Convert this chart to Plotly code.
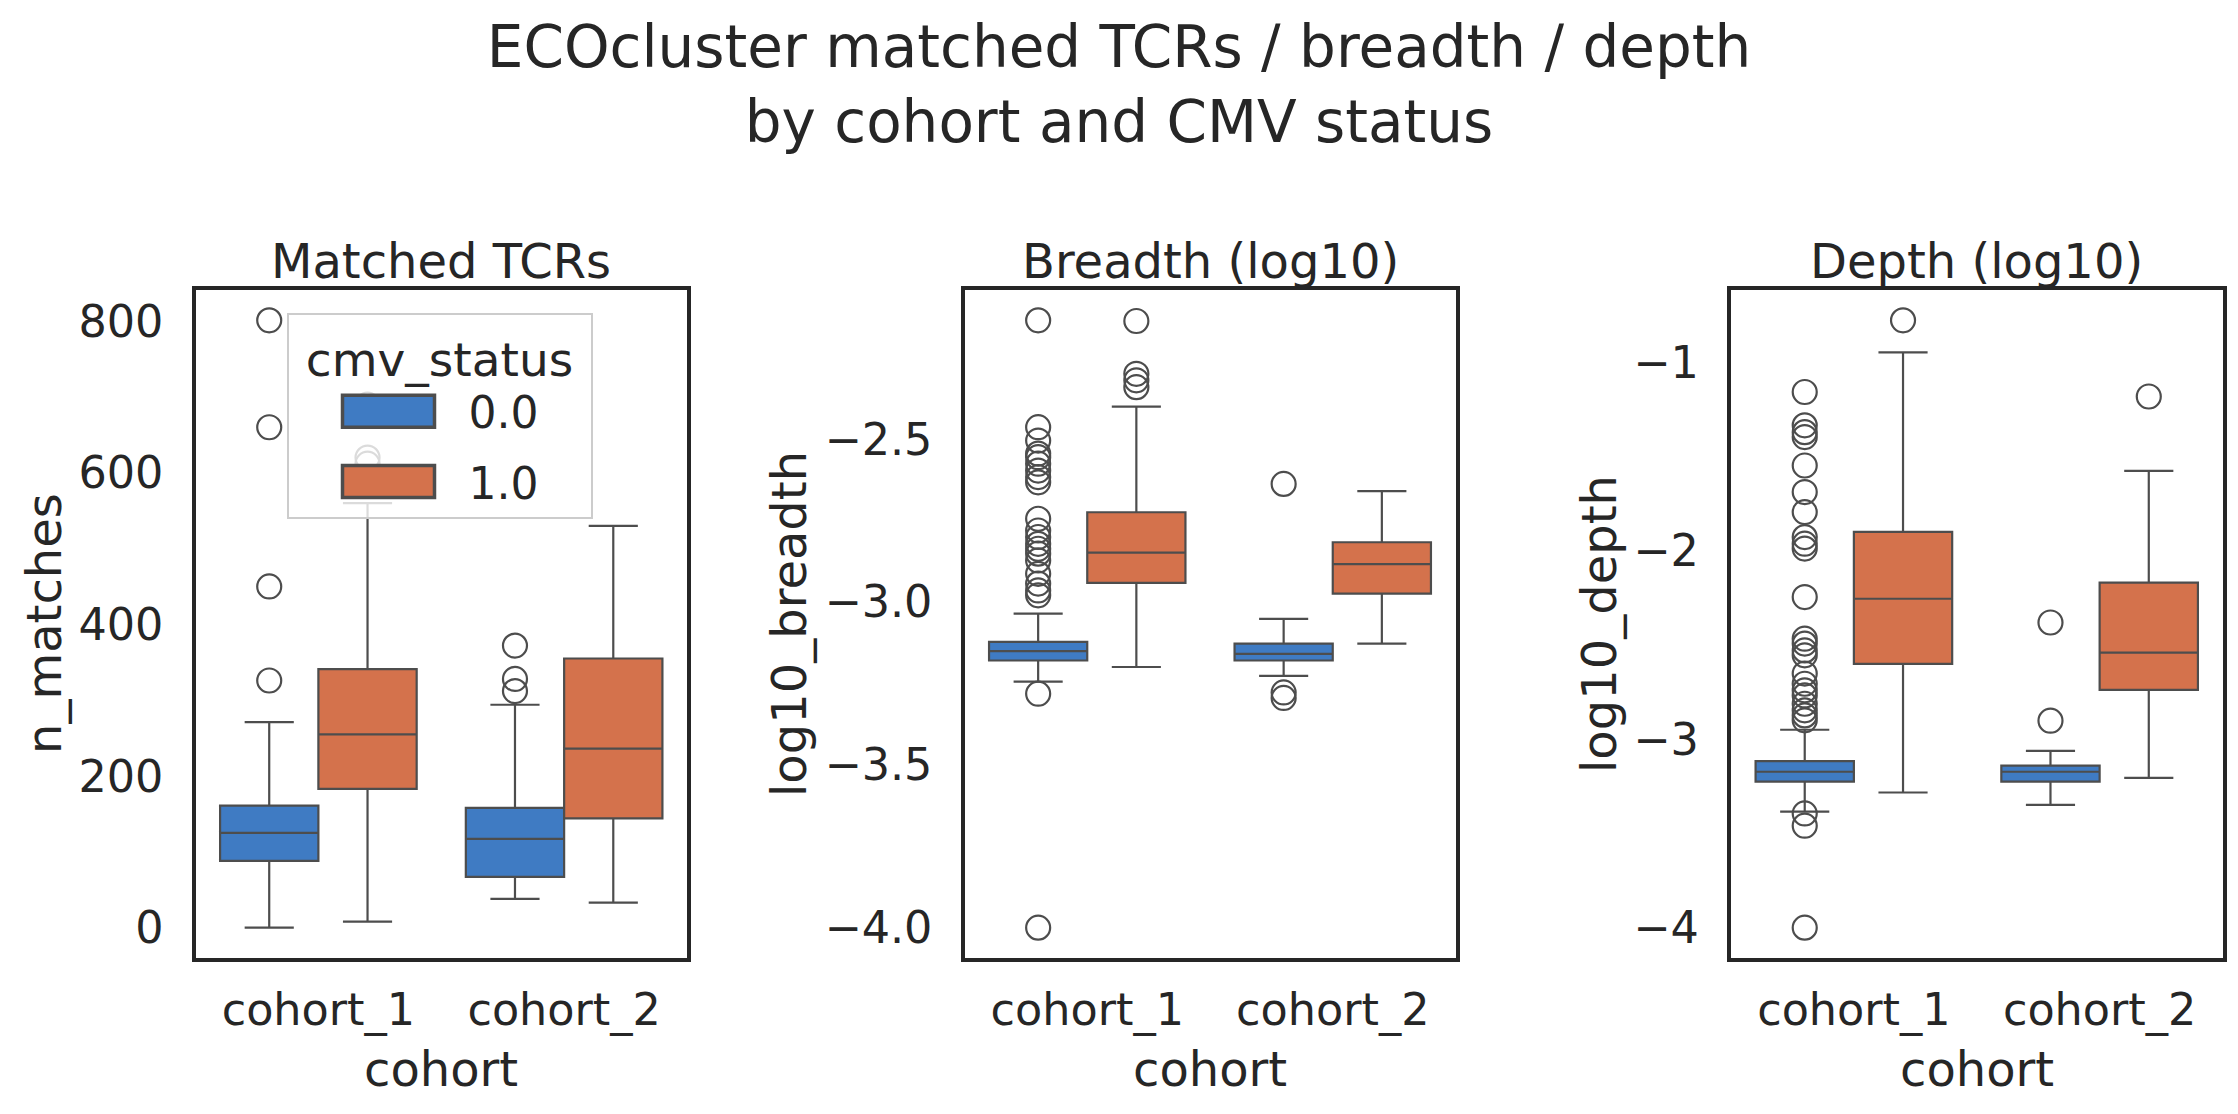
import plotly.graph_objects as go

# ---------------- data ----------------
cohorts = ["cohort_1", "cohort_2"]
cmv_levels = ["0.0", "1.0"]

# rows: cmv 0.0, cmv 1.0 ; columns: cohort_1, cohort_2
matches_low = [[0, 38], [8, 33]]
matches_q1 = [[88, 67], [183, 144]]
matches_med = [[125, 117], [255, 236]]
matches_q3 = [[161, 158], [341, 355]]
matches_high = [[271, 294], [560, 530]]
matches_out = [
    [[326, 450, 660, 801], [312, 328, 372]],
    [[612, 620, 690], []],
]

breadth_low = [[-3.245, -3.227], [-3.200, -3.128]]
breadth_q1 = [[-3.180, -3.180], [-2.942, -2.975]]
breadth_med = [[-3.151, -3.160], [-2.849, -2.884]]
breadth_q3 = [[-3.123, -3.128], [-2.725, -2.817]]
breadth_high = [[-3.036, -3.052], [-2.401, -2.660]]
breadth_out = [
    [[-4.0, -3.282, -2.980, -2.965, -2.944, -2.914, -2.873, -2.852, -2.837,
      -2.822, -2.801, -2.781, -2.745, -2.633, -2.617, -2.597, -2.576,
      -2.556, -2.545, -2.505, -2.464, -2.136],
     [-3.295, -3.278, -2.638]],
    [[-2.341, -2.320, -2.300, -2.138], []],
]

depth_low = [[-3.384, -3.349], [-3.283, -3.205]]
depth_q1 = [[-3.225, -3.225], [-2.601, -2.739]]
depth_med = [[-3.173, -3.173], [-2.255, -2.541]]
depth_q3 = [[-3.117, -3.140], [-1.900, -2.169]]
depth_high = [[-2.950, -3.062], [-0.948, -1.577]]
depth_out = [
    [[-4.0, -3.459, -3.394, -2.900, -2.874, -2.847, -2.812, -2.768, -2.741,
      -2.706, -2.652, -2.555, -2.529, -2.493, -2.467, -2.246, -1.989,
      -1.963, -1.928, -1.795, -1.689, -1.548, -1.397, -1.371, -1.335,
      -1.158],
     [-2.902, -2.381]],
    [[-0.778], [-1.182]],
]

panel_titles = ["Matched TCRs", "Breadth (log10)", "Depth (log10)"]
y_titles = ["n_matches", "log10_breadth", "log10_depth"]
x_title = "cohort"
main_title = "ECOcluster matched TCRs / breadth / depth<br>by cohort and CMV status"
legend_title = "cmv_status"

# ---------------- style ----------------
FONT = "DejaVu Sans"
TEXT = "#262626"
LINE = "#4d4d4d"
FILLS = ["#3f7bc3", "#d4724c"]
W, H = 2238, 1114
TICK_SIZE = 44.5
LABEL_SIZE = 48

panels = [
    dict(low=matches_low, q1=matches_q1, med=matches_med, q3=matches_q3,
         high=matches_high, out=matches_out, dtick=200, tick0=0, fmt=None),
    dict(low=breadth_low, q1=breadth_q1, med=breadth_med, q3=breadth_q3,
         high=breadth_high, out=breadth_out, dtick=0.5, tick0=-4, fmt=".1f"),
    dict(low=depth_low, q1=depth_q1, med=depth_med, q3=depth_q3,
         high=depth_high, out=depth_out, dtick=1, tick0=-4, fmt=None),
]

# frame positions in pixels (left, right) and shared top/bottom
frames_x = [(195.5, 687.0), (964.5, 1455.5), (1731.0, 2222.5)]
frame_top, frame_bottom = 290.0, 958.0
ylabel_x = [44, 789, 1599]

box_w = 0.4
offsets = [-0.2, 0.2]

fig = go.Figure()
layout_axes = {}
annotations = []

for p, pan in enumerate(panels):
    ax = "" if p == 0 else str(p + 1)
    xref, yref = "x" + ax, "y" + ax
    allvals = []
    for h in range(2):
        xs = [i + offsets[h] for i in range(len(cohorts))]
        fig.add_trace(go.Box(
            x=xs, q1=pan["q1"][h], median=pan["med"][h], q3=pan["q3"][h],
            lowerfence=pan["low"][h], upperfence=pan["high"][h],
            width=box_w, whiskerwidth=0.5, boxpoints=False,
            fillcolor=FILLS[h], line=dict(color=LINE, width=2.2),
            name=cmv_levels[h], legendgroup=cmv_levels[h],
            showlegend=(p == 0), xaxis=xref, yaxis=yref, hoverinfo="skip",
        ))
        allvals += pan["low"][h] + pan["high"][h]
        ox, oy = [], []
        for i in range(len(cohorts)):
            ox += [i + offsets[h]] * len(pan["out"][h][i])
            oy += pan["out"][h][i]
            allvals += pan["out"][h][i]
        fig.add_trace(go.Scatter(
            x=ox, y=oy, mode="markers", showlegend=False,
            marker=dict(symbol="circle-open", size=24, color=LINE,
                        line=dict(width=2.2, color=LINE)),
            xaxis=xref, yaxis=yref, hoverinfo="skip",
        ))
    lo, hi = min(allvals), max(allvals)
    pad = (hi - lo) * 0.05
    x0, x1 = frames_x[p]
    dom_x = [x0 / W, x1 / W]
    dom_y = [1 - frame_bottom / H, 1 - frame_top / H]
    layout_axes["xaxis" + ax] = dict(
        domain=dom_x, range=[-0.5, 1.5], tickmode="array",
        tickvals=list(range(len(cohorts))), ticktext=cohorts,
        showgrid=False, zeroline=False, showline=True, mirror=True,
        linecolor=TEXT, linewidth=4.3, ticks="", ticklabelstandoff=9,
        tickfont=dict(size=TICK_SIZE, color=TEXT, family=FONT),
        anchor=yref,
    )
    ydict = dict(
        domain=dom_y, range=[lo - pad, hi + pad], tickmode="linear",
        tick0=pan["tick0"], dtick=pan["dtick"],
        showgrid=False, zeroline=False, showline=True, mirror=True,
        linecolor=TEXT, linewidth=4.3, ticks="", ticklabelstandoff=19,
        tickfont=dict(size=TICK_SIZE, color=TEXT, family=FONT),
        anchor=xref,
    )
    if pan["fmt"]:
        ydict["tickformat"] = pan["fmt"]
    layout_axes["yaxis" + ax] = ydict

    cx = (x0 + x1) / 2 / W
    annotations.append(dict(text=panel_titles[p], x=cx, y=1 - 261 / H,
                            xref="paper", yref="paper", showarrow=False,
                            xanchor="center", yanchor="middle",
                            font=dict(size=LABEL_SIZE, color=TEXT, family=FONT)))
    annotations.append(dict(text=x_title, x=cx, y=1 - 1069 / H,
                            xref="paper", yref="paper", showarrow=False,
                            xanchor="center", yanchor="middle",
                            font=dict(size=LABEL_SIZE, color=TEXT, family=FONT)))
    annotations.append(dict(text=y_titles[p], x=ylabel_x[p] / W,
                            y=1 - (frame_top + frame_bottom) / 2 / H,
                            xref="paper", yref="paper", showarrow=False,
                            textangle=-90, xanchor="center", yanchor="middle",
                            font=dict(size=LABEL_SIZE, color=TEXT, family=FONT)))

fig.update_layout(
    width=W, height=H,
    margin=dict(l=0, r=0, t=0, b=0),
    paper_bgcolor="white", plot_bgcolor="white",
    font=dict(family=FONT, color=TEXT),
    title=dict(text=main_title, x=0.5, xanchor="center",
               y=1 - 67 / H, yanchor="middle", yref="container",
               font=dict(size=58, color=TEXT, family=FONT)),
    legend=dict(
        x=286.5 / W, y=1 - 313 / H, xanchor="left", yanchor="top",
        xref="paper", yref="paper",
        bgcolor="rgba(255,255,255,0.8)", bordercolor="#cccccc", borderwidth=2,
        font=dict(size=44, color=TEXT, family=FONT),
        title=dict(text="\u00a0" + legend_title + "\u00a0", side="top center",
                   font=dict(size=47, color=TEXT, family=FONT)),
        itemwidth=170, tracegroupgap=10,
    ),
    annotations=annotations,
    showlegend=True,
    **layout_axes,
)

post = """
document.body.style.margin = '0px';
var gd = document.querySelector('.plotly-graph-div');
gd.querySelectorAll('path.legendbox').forEach(function(p){
  p.setAttribute('d','M56,16H-36V-16H56Z');
  p.style.strokeWidth='3.5px';
});
"""

fig.write_html("out.html", post_script=post,
               config={"displayModeBar": False})
